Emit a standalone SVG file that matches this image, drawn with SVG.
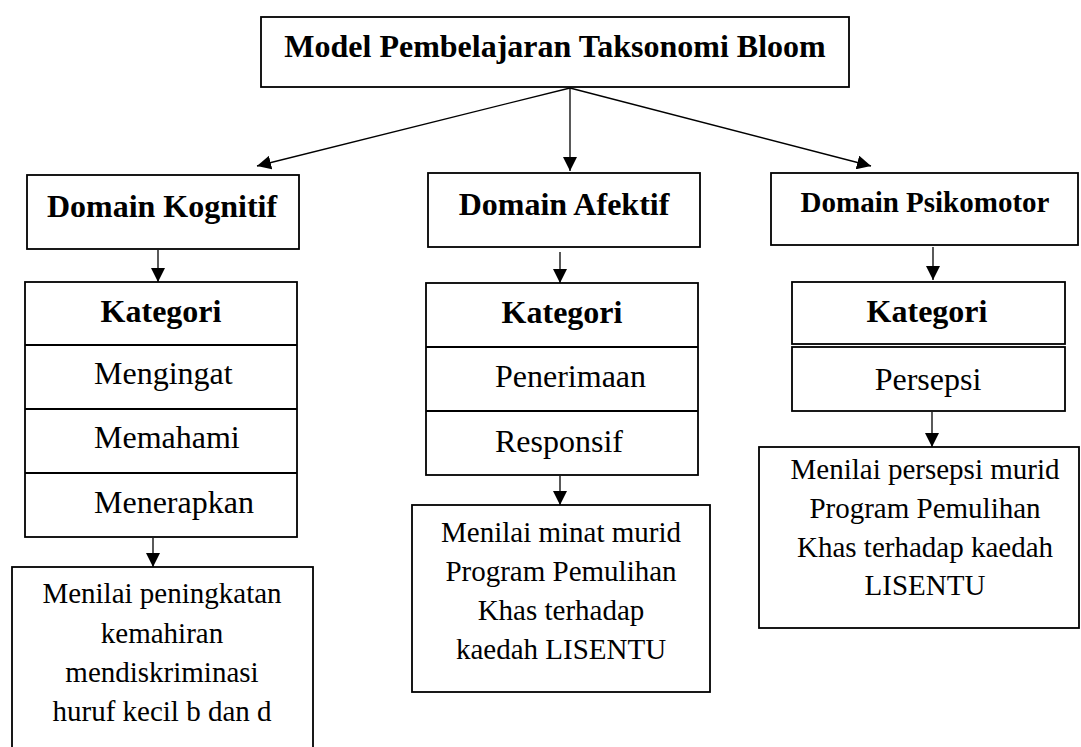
<svg xmlns="http://www.w3.org/2000/svg" width="1081" height="747" viewBox="0 0 1081 747">
<style>
.box{fill:#fff;stroke:#000;stroke-width:1.8}
.b{font-family:"Liberation Serif","Times New Roman",serif;font-weight:bold;fill:#000}
.r{font-family:"Liberation Serif","Times New Roman",serif;fill:#000}
.c{text-anchor:middle}
.s32{font-size:32px}
.s29{font-size:29px}
.conn{stroke:#000;stroke-width:1.3;fill:none}
</style>
<defs>
<marker id="ah" markerUnits="userSpaceOnUse" markerWidth="15" markerHeight="14" refX="14" refY="7" orient="auto">
<path d="M0,0 L14,7 L0,14 z" fill="#000"/>
</marker>
</defs>
<rect width="1081" height="747" fill="#fff"/>
<g id="connectors">
<line class="conn" x1="570" y1="88" x2="257" y2="166" marker-end="url(#ah)"/>
<line class="conn" x1="570" y1="88" x2="570" y2="171" marker-end="url(#ah)"/>
<line class="conn" x1="570" y1="88" x2="871" y2="166" marker-end="url(#ah)"/>
<line class="conn" x1="158" y1="250" x2="158" y2="282" marker-end="url(#ah)"/>
<line class="conn" x1="560" y1="252" x2="560" y2="283" marker-end="url(#ah)"/>
<line class="conn" x1="933" y1="247" x2="933" y2="280" marker-end="url(#ah)"/>
<line class="conn" x1="153" y1="538" x2="153" y2="567" marker-end="url(#ah)"/>
<line class="conn" x1="560" y1="476" x2="560" y2="505" marker-end="url(#ah)"/>
<line class="conn" x1="932" y1="412" x2="932" y2="447" marker-end="url(#ah)"/>
</g>
<g id="title">
<rect class="box" x="261" y="17" width="588" height="70"/>
<text class="b c s32" x="555" y="57">Model Pembelajaran Taksonomi Bloom</text>
</g>
<g id="domain-kognitif">
<rect class="box" x="27" y="175" width="272" height="74"/>
<text class="b c s32" x="162" y="217">Domain Kognitif</text>
</g>
<g id="domain-afektif">
<rect class="box" x="428" y="173" width="272" height="74"/>
<text class="b c s32" x="564" y="215">Domain Afektif</text>
</g>
<g id="domain-psikomotor">
<rect class="box" x="771" y="173" width="307" height="72"/>
<text class="b c s29" x="925" y="212">Domain Psikomotor</text>
</g>
<g id="kategori-kognitif">
<rect class="box" x="25" y="282" width="272" height="255"/>
<line class="box" x1="25" y1="345" x2="297" y2="345"/>
<line class="box" x1="25" y1="409" x2="297" y2="409"/>
<line class="box" x1="25" y1="473" x2="297" y2="473"/>
<text class="b c s32" x="161" y="322">Kategori</text>
<text class="r s32" x="94" y="384">Mengingat</text>
<text class="r s32" x="94" y="448">Memahami</text>
<text class="r s32" x="94" y="513">Menerapkan</text>
</g>
<g id="kategori-afektif">
<rect class="box" x="426" y="283" width="272" height="192"/>
<line class="box" x1="426" y1="347" x2="698" y2="347"/>
<line class="box" x1="426" y1="411" x2="698" y2="411"/>
<text class="b c s32" x="562" y="323">Kategori</text>
<text class="r s32" x="495" y="387">Penerimaan</text>
<text class="r s32" x="495" y="452">Responsif</text>
</g>
<g id="kategori-psikomotor">
<rect class="box" x="792" y="282" width="273" height="62"/>
<rect class="box" x="792" y="347" width="273" height="64"/>
<text class="b c s32" x="927" y="322">Kategori</text>
<text class="r c s32" x="928" y="390">Persepsi</text>
</g>
<g id="nilai-kognitif">
<rect class="box" x="12" y="567" width="301" height="200"/>
<text class="r c s29" x="162" y="603">Menilai peningkatan</text>
<text class="r c s29" x="162" y="643">kemahiran</text>
<text class="r c s29" x="162" y="682">mendiskriminasi</text>
<text class="r c s29" x="162" y="721">huruf kecil b dan d</text>
</g>
<g id="nilai-afektif">
<rect class="box" x="412" y="505" width="298" height="187"/>
<text class="r c s29" x="561" y="542">Menilai minat murid</text>
<text class="r c s29" x="561" y="581">Program Pemulihan</text>
<text class="r c s29" x="561" y="620">Khas terhadap</text>
<text class="r c s29" x="561" y="659">kaedah LISENTU</text>
</g>
<g id="nilai-psikomotor">
<rect class="box" x="759" y="447" width="320" height="181"/>
<text class="r c s29" x="925" y="479">Menilai persepsi murid</text>
<text class="r c s29" x="925" y="518">Program Pemulihan</text>
<text class="r c s29" x="925" y="557">Khas terhadap kaedah</text>
<text class="r c s29" x="925" y="595">LISENTU</text>
</g>
</svg>
